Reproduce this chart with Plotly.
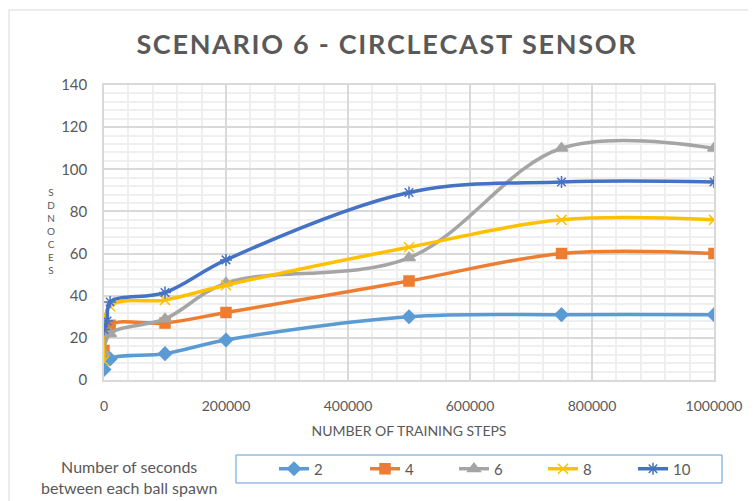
import plotly.graph_objects as go

# ── dati ────────────────────────────────────────
steps = [0, 10000, 100000, 200000, 500000, 750000, 1000000]
steps_10 = [0, 5000, 10000, 100000, 200000, 500000, 750000, 1000000]

sec_2 = [5, 10, 12.5, 19, 30, 31, 31]
sec_4 = [14, 26, 27, 32, 47, 60, 60]
sec_6 = [13, 22, 29, 46, 58, 110, 110]
sec_8 = [9, 35, 38, 45, 63, 76, 76]
sec_10 = [24, 28, 37, 41.5, 57, 89, 94, 94]

x_ticks = [0, 200000, 400000, 600000, 800000, 1000000]
y_ticks = [0, 20, 40, 60, 80, 100, 120, 140]

_GREY = "#595959"
_FONT = "Lato"

# la pagina html ha 8px di margine sul body: coordinate in pixel dello screenshot
OFF = 8
W, H = 756 - OFF, 501 - OFF
L, T = 104 - OFF, 85 - OFF
PW, PH = 610, 295
R, B = W - L - PW, H - T - PH


def px_x(p):
    return (p - OFF - L) / PW


def px_y(p):
    return (T + PH - (p - OFF)) / PH


series = [
    ("2", steps, sec_2, "#5B9BD5", "diamond", 10, 291),
    ("4", steps, sec_4, "#ED7D31", "square", 10, 382),
    ("6", steps, sec_6, "#A5A5A5", "triangle-up", 11, 471),
    ("8", steps, sec_8, "#FFC000", "x-thin-open", 10, 560),
    ("10", steps_10, sec_10, "#4472C4", "asterisk-open", 10, 650),
]

fig = go.Figure()
legends = {}
for i, (name, xs, ys, col, sym, size, lx) in enumerate(series):
    key = "legend" if i == 0 else f"legend{i + 1}"
    fig.add_trace(go.Scatter(
        x=xs, y=ys, name=name, legend=key,
        mode="lines+markers",
        line=dict(color=col, width=3.5, shape="spline", smoothing=1.0),
        marker=dict(symbol=sym, size=size, color=col, line=dict(color=col, width=1.5)),
    ))
    # ogni voce ha la sua legenda, posizionata come nell'originale
    legends[key] = dict(
        orientation="h",
        x=px_x(lx - 17), xanchor="left",
        y=px_y(469), yanchor="middle",
        font=dict(size=15, color=_GREY),
        bgcolor="rgba(0,0,0,0)",
    )

title_txt = "\u200a".join("SCENARIO 6 - CIRCLECAST SENSOR")

fig.update_layout(
    width=W, height=H,
    margin=dict(l=L, r=R, t=T, b=B),
    paper_bgcolor="white",
    plot_bgcolor="white",
    font=dict(family=_FONT, color=_GREY, size=14),
    title=dict(
        text=title_txt,
        x=(386 - OFF) / W, xanchor="center",
        y=1 - (45 - OFF) / H, yanchor="middle",
        font=dict(family=_FONT, size=27, color=_GREY, weight="bold"),
    ),
    showlegend=True,
    xaxis=dict(
        range=[0, 1000000],
        tickvals=x_ticks, tickformat="d",
        showgrid=True, gridcolor="#D9D9D9", gridwidth=1.5,
        minor=dict(dtick=40000, showgrid=True, gridcolor="#EFEFEF", gridwidth=1.5),
        zeroline=False, showline=True, linecolor="#D9D9D9", linewidth=1.5, mirror=True,
        ticks="", ticklabelstandoff=12,
        tickfont=dict(size=14, color=_GREY),
        title=dict(text="NUMBER OF TRAINING STEPS", font=dict(size=14, color=_GREY), standoff=14),
    ),
    yaxis=dict(
        range=[0, 140],
        tickvals=y_ticks,
        showgrid=True, gridcolor="#D9D9D9", gridwidth=1.5,
        minor=dict(dtick=4, showgrid=True, gridcolor="#EFEFEF", gridwidth=1.5),
        zeroline=False, showline=True, linecolor="#D9D9D9", linewidth=1.5, mirror=True,
        ticks="", ticklabelstandoff=12,
        tickfont=dict(size=15, color=_GREY),
    ),
    **legends,
)

# cornice esterna del grafico
fig.add_shape(type="rect", xref="paper", yref="paper",
              x0=px_x(9), x1=px_x(780), y0=px_y(530), y1=px_y(10),
              line=dict(color="#D9D9D9", width=1), layer="below")

# riquadro della legenda
fig.add_shape(type="rect", xref="paper", yref="paper",
              x0=px_x(236), x1=px_x(722), y0=px_y(483), y1=px_y(455),
              line=dict(color="#5B9BD5", width=1))

# titolo della legenda, fuori dal riquadro
fig.add_annotation(
    text="Number of seconds<br>between each ball spawn",
    xref="paper", yref="paper", x=px_x(129), y=px_y(477),
    xanchor="center", yanchor="middle", showarrow=False,
    font=dict(size=16, color=_GREY), align="center",
)

# titolo asse y: lettere impilate come nell'originale
fig.add_annotation(
    text="<br>".join("SDNOCES"),
    xref="paper", yref="paper", x=px_x(51), y=px_y(231),
    xanchor="center", yanchor="middle", showarrow=False,
    font=dict(size=10, color=_GREY),
)

fig.write_html("out.html")
